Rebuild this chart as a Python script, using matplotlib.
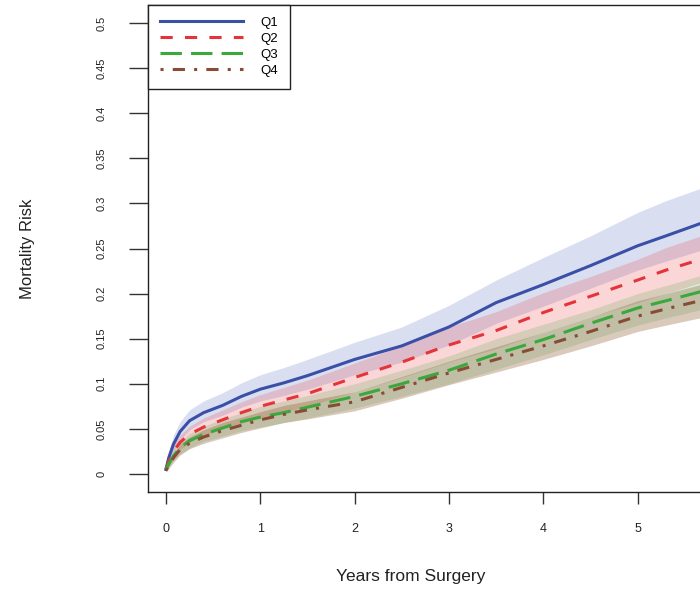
import numpy as np
import matplotlib.pyplot as plt

plt.rcParams['font.family'] = ['Liberation Sans', 'DejaVu Sans']

# Follow-up time grid (years) and cumulative mortality per quartile
years = [0, 0.03, 0.08, 0.15, 0.25, 0.4, 0.6, 0.8, 1.0, 1.25, 1.5, 2.0, 2.5, 3.0, 3.5, 4.0, 4.5, 5.0, 5.3, 5.7]

q1 = [0.005, 0.018, 0.033, 0.047, 0.059, 0.068, 0.076, 0.086, 0.094, 0.101, 0.109, 0.127, 0.142, 0.163, 0.190, 0.210, 0.231, 0.253, 0.264, 0.279]
q1_hi = [0.008, 0.025, 0.043, 0.058, 0.071, 0.081, 0.090, 0.101, 0.110, 0.118, 0.127, 0.146, 0.163, 0.187, 0.215, 0.240, 0.264, 0.290, 0.303, 0.318]
q1_lo = [0.003, 0.013, 0.025, 0.038, 0.049, 0.058, 0.065, 0.074, 0.081, 0.087, 0.094, 0.110, 0.124, 0.143, 0.167, 0.186, 0.206, 0.226, 0.236, 0.249]

q2 = [0.005, 0.014, 0.025, 0.035, 0.044, 0.052, 0.060, 0.068, 0.075, 0.082, 0.089, 0.107, 0.124, 0.143, 0.159, 0.179, 0.197, 0.215, 0.226, 0.239]
q2_hi = [0.007, 0.019, 0.032, 0.043, 0.053, 0.062, 0.071, 0.080, 0.088, 0.096, 0.104, 0.123, 0.142, 0.163, 0.180, 0.201, 0.219, 0.238, 0.251, 0.265]
q2_lo = [0.003, 0.010, 0.018, 0.027, 0.035, 0.043, 0.050, 0.057, 0.063, 0.069, 0.075, 0.091, 0.107, 0.124, 0.139, 0.157, 0.174, 0.190, 0.200, 0.213]

q3 = [0.005, 0.011, 0.020, 0.029, 0.037, 0.044, 0.051, 0.058, 0.063, 0.068, 0.074, 0.086, 0.100, 0.115, 0.133, 0.149, 0.167, 0.184, 0.192, 0.203]
q3_hi = [0.007, 0.015, 0.026, 0.036, 0.045, 0.053, 0.061, 0.068, 0.075, 0.081, 0.087, 0.100, 0.115, 0.131, 0.150, 0.166, 0.182, 0.200, 0.209, 0.221]
q3_lo = [0.003, 0.007, 0.015, 0.022, 0.029, 0.036, 0.042, 0.048, 0.052, 0.057, 0.062, 0.073, 0.086, 0.100, 0.116, 0.132, 0.149, 0.165, 0.173, 0.183]

q4 = [0.004, 0.009, 0.018, 0.027, 0.034, 0.041, 0.048, 0.054, 0.060, 0.066, 0.071, 0.080, 0.096, 0.112, 0.127, 0.142, 0.158, 0.175, 0.183, 0.193]
q4_hi = [0.006, 0.013, 0.023, 0.033, 0.041, 0.049, 0.057, 0.063, 0.069, 0.076, 0.081, 0.091, 0.108, 0.125, 0.141, 0.157, 0.174, 0.192, 0.200, 0.211]
q4_lo = [0.002, 0.006, 0.013, 0.021, 0.028, 0.034, 0.040, 0.046, 0.051, 0.057, 0.061, 0.070, 0.084, 0.099, 0.113, 0.127, 0.142, 0.158, 0.165, 0.174]

labels = ['Q1', 'Q2', 'Q3', 'Q4']
line_colors = ['#3a4fa6', '#e5333a', '#3aa83c', '#8a4b36']
band_colors = [('#3f51b5', 0.19), ('#e8262b', 0.19), ('#2ca02c', 0.17), ('#8a5a30', 0.32)]
dash_styles = [None, (4, 4), (7, 3), (1, 3, 4, 3)]

curves = [q1, q2, q3, q4]
lows = [q1_lo, q2_lo, q3_lo, q4_lo]
highs = [q1_hi, q2_hi, q3_hi, q4_hi]

fig = plt.figure(figsize=(7.0, 5.89), dpi=100)
# axes run past the right edge of the figure, so the box is cut off there
ax = fig.add_axes([148 / 700, 97 / 589, 584 / 700, 487 / 589])

for lo, hi, (c, a) in zip(lows, highs, band_colors):
    ax.fill_between(years, lo, hi, color=c, alpha=a, linewidth=0)

handles = []
for y, lab, col, ds in zip(curves, labels, line_colors, dash_styles):
    ln, = ax.plot(years, y, color=col, linewidth=2.2, label=lab)
    if ds is not None:
        ln.set_dashes(ds)
    handles.append(ln)

ax.set_xlim(-0.19, 6.0)
ax.set_ylim(-0.02, 0.52)

yt = np.arange(0, 0.501, 0.05)
ax.set_yticks(yt)
ax.set_yticklabels(['0', '0.05', '0.1', '0.15', '0.2', '0.25', '0.3', '0.35', '0.4', '0.45', '0.5'],
                   rotation=90, va='center', fontsize=8)
ax.set_xticks([0, 1, 2, 3, 4, 5])
ax.set_xticklabels(['0', '1', '2', '3', '4', '5'], fontsize=9)
ax.tick_params(axis='y', length=14, width=1.0, pad=16, colors='#333333', labelcolor='#222222')
ax.tick_params(axis='x', length=8.5, width=1.0, pad=14, colors='#333333', labelcolor='#222222')

for s in ax.spines.values():
    s.set_linewidth(1.0)
    s.set_color('#222222')

ax.set_xlabel('Years from Surgery', fontsize=12.5, color='#222222')
ax.xaxis.set_label_coords((411 - 148) / 584, -(577 - 492) / 487)
ax.xaxis.label.set_va('center')
ax.set_ylabel('Mortality Risk', fontsize=12, color='#222222')
ax.yaxis.set_label_coords((28 - 148) / 584, (492 - 249) / 487)
ax.yaxis.label.set_va('center')

leg = ax.legend(handles=handles, loc='upper left', bbox_to_anchor=(0, 1), borderaxespad=0,
                fontsize=9.5, handlelength=6.3, handletextpad=1.3, labelspacing=0.28,
                borderpad=0.9, fancybox=False, framealpha=1)
leg.get_frame().set_edgecolor('#222222')
leg.get_frame().set_linewidth(1.0)

fig.savefig('out.png', dpi=100)
